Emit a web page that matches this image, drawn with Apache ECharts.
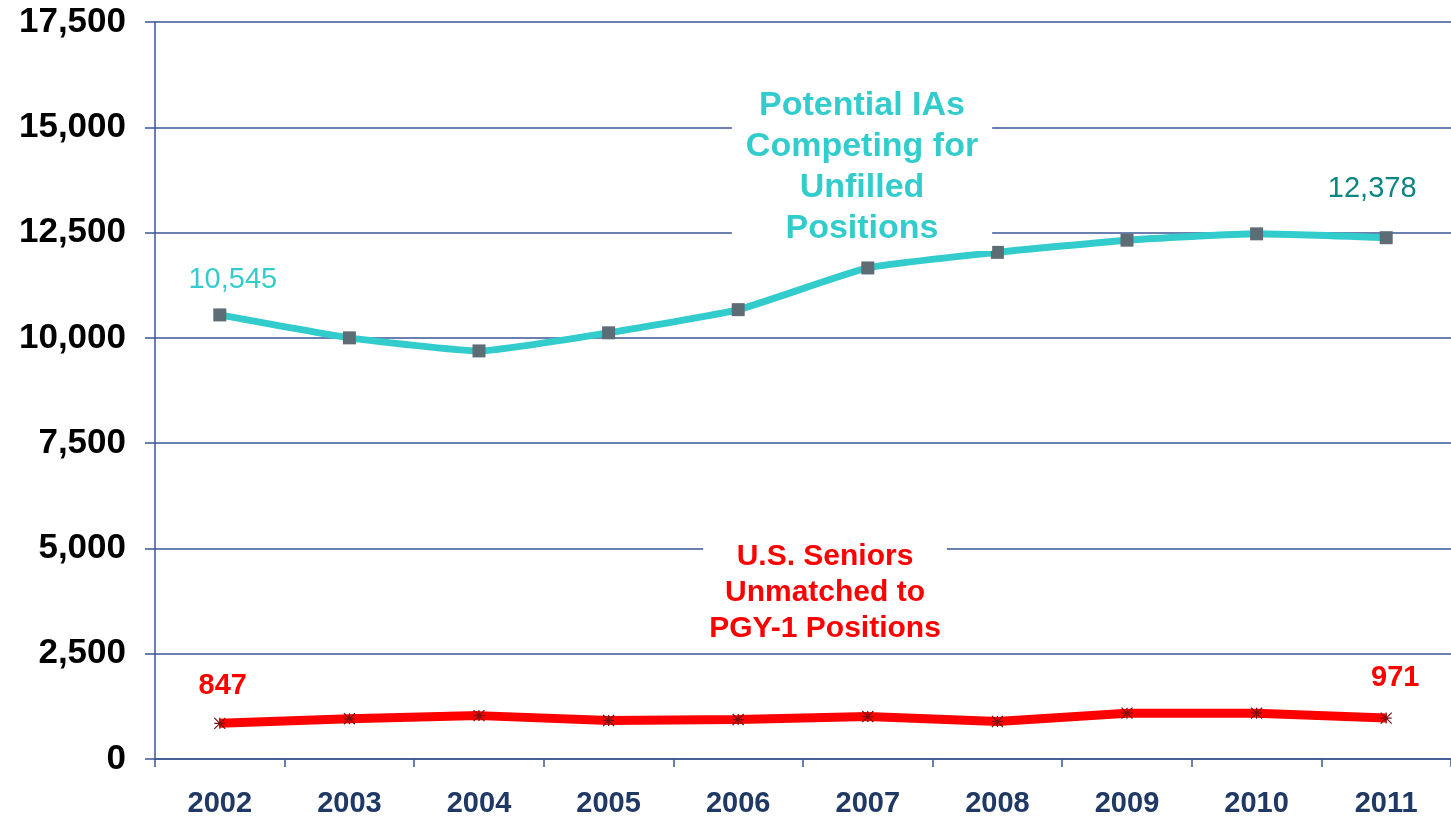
<!DOCTYPE html>
<html>
<head>
<meta charset="utf-8">
<script src="https://cdn.jsdelivr.net/npm/echarts@6/dist/echarts.min.js"></script>
<style>
  html, body { margin: 0; padding: 0; background: #fff; }
  #chart { width: 1451px; height: 818px; }
</style>
</head>
<body>
<div id="chart"></div>
<script>
// data
const years = ['2002', '2003', '2004', '2005', '2006', '2007', '2008', '2009', '2010', '2011']
const iaValues = [10545, 10000, 9690, 10120, 10670, 11660, 12030, 12320, 12470, 12378]
const seniorValues = [847, 955, 1030, 915, 937, 1008, 890, 1088, 1088, 971]
const yMin = 0
const yMax = 17500
const yStep = 2500

const axisBlue = '#3b5694'
const teal = '#33cccc'
const red = '#ff0000'

// only first and last points carry a value label
const withEndLabels = (values, firstLabel, lastLabel) => values.map((v, i) => {
  if (i === 0) return { value: v, label: firstLabel }
  if (i === values.length - 1) return { value: v, label: lastLabel }
  return v
})

const fmt = v => Number(v).toLocaleString('en-US')

let myChart = echarts.init(document.getElementById('chart'))

let option = {
  animation: false,
  backgroundColor: '#fff',
  grid: {
    left: 155,
    right: -11,
    top: 22,
    bottom: 58
  },
  xAxis: {
    type: 'category',
    data: years,
    boundaryGap: true,
    axisLine: { lineStyle: { color: axisBlue, width: 1.5 } },
    axisTick: { show: true, length: 8, lineStyle: { color: axisBlue, width: 1.5 } },
    axisLabel: {
      margin: 30,
      color: '#1f3864',
      fontFamily: 'Liberation Sans',
      fontWeight: 'bold',
      fontSize: 29
    },
    splitLine: { show: false }
  },
  yAxis: {
    type: 'value',
    min: yMin,
    max: yMax,
    interval: yStep,
    axisLine: { show: true, lineStyle: { color: axisBlue, width: 1.5 } },
    axisTick: { show: true, length: 10, lineStyle: { color: axisBlue, width: 1.5 } },
    axisLabel: {
      margin: 29,
      color: '#000',
      fontFamily: 'Liberation Sans',
      fontWeight: 'bold',
      fontSize: 35,
      formatter: v => fmt(v)
    },
    splitLine: { show: true, lineStyle: { color: axisBlue, width: 1.5 } }
  },
  series: [
    {
      name: 'Potential IAs Competing for Unfilled Positions',
      type: 'line',
      smooth: 0.15,
      data: withEndLabels(iaValues,
        { show: true, position: 'top', offset: [13, -9], color: teal, fontSize: 29, fontFamily: 'Liberation Sans', formatter: p => fmt(p.value) },
        { show: true, position: 'top', offset: [-14, -23], color: '#0e8585', fontSize: 29, fontFamily: 'Liberation Sans', formatter: p => fmt(p.value) }
      ),
      lineStyle: { color: teal, width: 7 },
      symbol: 'rect',
      symbolSize: 13,
      showAllSymbol: true,
      itemStyle: { color: '#5e6d75', borderColor: '#5e6d75', borderWidth: 0 },
      label: { show: false }
    },
    {
      name: 'U.S. Seniors Unmatched to PGY-1 Positions',
      type: 'line',
      data: withEndLabels(seniorValues,
        { show: true, position: 'top', offset: [3, -12], color: red, fontSize: 29, fontWeight: 'bold', fontFamily: 'Liberation Sans', formatter: p => fmt(p.value) },
        { show: true, position: 'top', offset: [9, -15], color: red, fontSize: 29, fontWeight: 'bold', fontFamily: 'Liberation Sans', formatter: p => fmt(p.value) }
      ),
      lineStyle: { color: red, width: 9 },
      symbol: 'path://M0,0L10,10M10,0L0,10M5,0L5,10M0,5L10,5',
      symbolSize: 11,
      showAllSymbol: true,
      itemStyle: { color: '#7a1010', borderColor: '#7a1010', borderWidth: 1.2 },
      label: { show: false }
    }
  ],
  graphic: [
    {
      type: 'text',
      z: 100,
      x: 862,
      y: 83,
      style: {
        text: 'Potential IAs\nCompeting for\nUnfilled\nPositions',
        fill: teal,
        font: 'bold 34px "Liberation Sans"',
        align: 'center',
        verticalAlign: 'top',
        lineHeight: 41,
        backgroundColor: '#fff',
        padding: [2, 14, 2, 14]
      }
    },
    {
      type: 'text',
      z: 100,
      x: 825,
      y: 539,
      style: {
        text: 'U.S. Seniors\nUnmatched to\nPGY-1 Positions',
        fill: red,
        font: 'bold 30px "Liberation Sans"',
        align: 'center',
        verticalAlign: 'top',
        lineHeight: 36,
        backgroundColor: '#fff',
        padding: [0, 6, 0, 6]
      }
    }
  ]
}

myChart.setOption(option)
</script>
</body>
</html>
